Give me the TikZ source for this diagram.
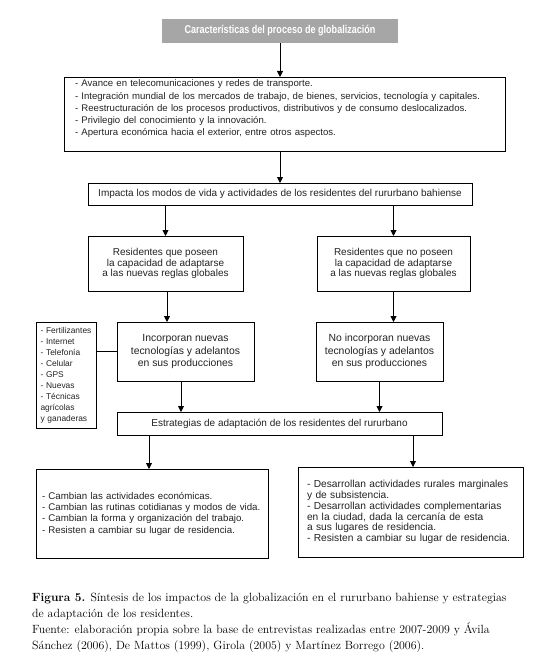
\documentclass[tikz,border=0pt]{standalone}
\usepackage{fontspec}
\setsansfont{Liberation Sans}
\newfontfamily\condfont{Liberation Sans}[FakeStretch=0.8]
\usetikzlibrary{arrows.meta}
\definecolor{titlegray}{RGB}{166,166,166}
\definecolor{txt}{RGB}{35,35,35}
\tikzset{
  box/.style={draw=black, line width=0.9pt, inner sep=0pt, outer sep=0pt, text=txt, font=\sffamily\fontsize{10}{11}\selectfont},
  arr/.style={line width=0.9pt, -{Triangle[width=6pt,length=6pt]}},
  link/.style={line width=0.9pt},
}
\begin{document}
\begin{tikzpicture}[x=1pt,y=-1pt]
\useasboundingbox (0,0) rectangle (539,658);
\fill[white] (0,0) rectangle (539,658);

\node[fill=titlegray, inner sep=0pt, minimum width=236pt, minimum height=24pt, text=white,
  font=\condfont\bfseries\fontsize{11.3}{12}\selectfont] (title) at (280,31) {Caracter\'isticas del proceso de globalizaci\'on};

\node[box, minimum width=441pt, minimum height=74pt, text width=419pt, align=left, font=\sffamily\fontsize{9.6}{12.3}\selectfont] (list) at (284.5,114) {%
- Avance en telecomunicaciones y redes de transporte.\\
- Integraci\'on mundial de los mercados de trabajo, de bienes, servicios, tecnolog\'ia y capitales.\\
- Reestructuraci\'on de los procesos productivos, distributivos y de consumo deslocalizados.\\
- Privilegio del conocimiento y la innovaci\'on.\\
- Apertura econ\'omica hacia el exterior, entre otros aspectos.\\
\mbox{}};

\node[box, minimum width=384pt, minimum height=22pt] (impact) at (280,194) {Impacta los modos de vida y actividades de los residentes del rururbano bahiense};

\node[box, minimum width=155pt, minimum height=55pt, align=center, font=\sffamily\fontsize{10}{10.8}\selectfont] (resL) at (165.5,263.5) {Residentes que poseen\\la capacidad de adaptarse\\a las nuevas reglas globales};
\node[box, minimum width=153pt, minimum height=55pt, align=center, font=\sffamily\fontsize{10}{10.8}\selectfont] (resR) at (393.5,263.5) {Residentes que no poseen\\la capacidad de adaptarse\\a las nuevas reglas globales};

\node[box, minimum width=137pt, minimum height=59pt, align=center, font=\sffamily\fontsize{10.4}{12.4}\selectfont] (incorp) at (185.5,351.5) {Incorporan nuevas\\tecnolog\'ias y adelantos\\en sus producciones};
\node[box, minimum width=127pt, minimum height=59pt, align=center, font=\sffamily\fontsize{10.4}{12.4}\selectfont] (noinc) at (379.5,351.5) {No incorporan nuevas\\tecnolog\'ias y adelantos\\en sus producciones};

\node[box, minimum width=60pt, minimum height=106pt, text width=51pt, align=left, font=\sffamily\fontsize{8.4}{11}\selectfont] (fert) at (66,375) {%
- Fertilizantes\\- Internet\\- Telefon\'ia\\- Celular\\- GPS\\- Nuevas\\- T\'ecnicas\\agr\'icolas\\y ganaderas};

\node[box, minimum width=325pt, minimum height=23pt] (estr) at (279.5,423.5) {Estrategias de adaptaci\'on de los residentes del rururbano};

\node[box, minimum width=232pt, minimum height=89pt, text width=220pt, align=left, font=\sffamily\fontsize{9.7}{11.3}\selectfont] (botL) at (152,513.5) {%
- Cambian las actividades econ\'omicas.\\
- Cambian las rutinas cotidianas y modos de vida.\\
- Cambian la forma y organizaci\'on del trabajo.\\
- Resisten a cambiar su lugar de residencia.};

\node[box, minimum width=225pt, minimum height=90pt, text width=207pt, align=left, font=\sffamily\fontsize{10.2}{10.9}\selectfont] (botR) at (410.5,512) {%
- Desarrollan actividades rurales marginales\\
y de subsistencia.\\
- Desarrollan actividades complementarias\\
en la ciudad, dada la cercan\'ia de esta\\
a sus lugares de residencia.\\
- Resisten a cambiar su lugar de residencia.};

\node[anchor=base west, inner sep=0pt, align=left, font=\fontsize{11.9}{16}\selectfont] (caption) at (32,649.5) {%
\textbf{Figura 5.} S\'intesis de los impactos de la globalizaci\'on en el rururbano bahiense y estrategias\\
de adaptaci\'on de los residentes.\\
Fuente: elaboraci\'on propia sobre la base de entrevistas realizadas entre 2007-2009 y \'Avila\\
S\'anchez (2006), De Mattos (1999), Girola (2005) y Mart\'inez Borrego (2006).};

\draw[arr] (title.south) -- (title.south |- list.north);
\draw[arr] (list.south -| title.south) -- (title.south |- impact.north);
\draw[arr] (resL.north |- impact.south) -- (resL.north);
\draw[arr] (resR.north |- impact.south) -- (resR.north);
\draw[arr] ([xshift=1.5pt]resL.south) -- ([xshift=1.5pt]resL.south |- incorp.north);
\draw[arr] (resR.south) -- (resR.south |- noinc.north);
\draw[link] (fert.east |- incorp.west) -- (incorp.west);
\draw[arr] ([xshift=-4.5pt]incorp.south) -- ([xshift=-4.5pt]incorp.south |- estr.north);
\draw[arr] (noinc.south) -- (noinc.south |- estr.north);
\draw[arr] ([xshift=-3pt]botL.north |- estr.south) -- ([xshift=-3pt]botL.north);
\draw[arr] ([xshift=2.5pt]botR.north |- estr.south) -- ([xshift=2.5pt]botR.north);
\end{tikzpicture}
\end{document}
